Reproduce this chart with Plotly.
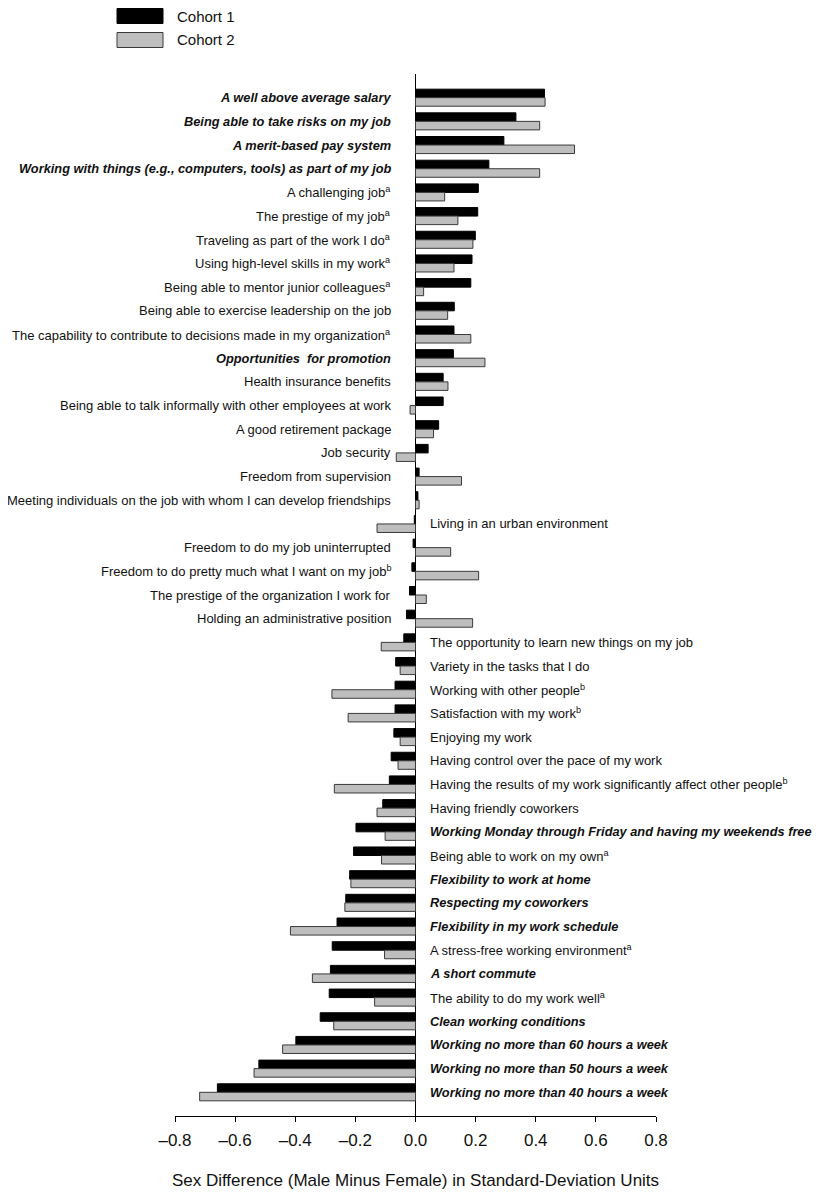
import plotly.graph_objects as go

labels = [
    "A well above average salary",
    "Being able to take risks on my job",
    "A merit-based pay system",
    "Working with things (e.g., computers, tools) as part of my job",
    "A challenging job",
    "The prestige of my job",
    "Traveling as part of the work I do",
    "Using high-level skills in my work",
    "Being able to mentor junior colleagues",
    "Being able to exercise leadership on the job",
    "The capability to contribute to decisions made in my organization",
    "Opportunities  for promotion",
    "Health insurance benefits",
    "Being able to talk informally with other employees at work",
    "A good retirement package",
    "Job security",
    "Freedom from supervision",
    "Meeting individuals on the job with whom I can develop friendships",
    "Living in an urban environment",
    "Freedom to do my job uninterrupted",
    "Freedom to do pretty much what I want on my job",
    "The prestige of the organization I work for",
    "Holding an administrative position",
    "The opportunity to learn new things on my job",
    "Variety in the tasks that I do",
    "Working with other people",
    "Satisfaction with my work",
    "Enjoying my work",
    "Having control over the pace of my work",
    "Having the results of my work significantly affect other people",
    "Having friendly coworkers",
    "Working Monday through Friday and having my weekends free",
    "Being able to work on my own",
    "Flexibility to work at home",
    "Respecting my coworkers",
    "Flexibility in my work schedule",
    "A stress-free working environment",
    "A short commute",
    "The ability to do my work well",
    "Clean working conditions",
    "Working no more than 60 hours a week",
    "Working no more than 50 hours a week",
    "Working no more than 40 hours a week",
]

notes = ["", "", "", "", "a", "a", "a", "a", "a", "", "a", "", "", "", "", "", "", "",
         "", "", "b", "", "", "", "", "b", "b", "", "", "b", "", "", "a", "", "", "",
         "a", "", "a", "", "", "", ""]

emphasis = [1, 1, 1, 1, 0, 0, 0, 0, 0, 0, 0, 1, 0, 0, 0, 0, 0, 0,
            0, 0, 0, 0, 0, 0, 0, 0, 0, 0, 0, 0, 0, 1, 0, 1, 1, 1,
            0, 1, 0, 1, 1, 1, 1]

label_side = ["L"] * 18 + ["R"] + ["L"] * 4 + ["R"] * 20

cohort1 = [0.429, 0.334, 0.294, 0.244, 0.209, 0.207, 0.199, 0.188, 0.184, 0.129,
           0.128, 0.126, 0.092, 0.092, 0.077, 0.042, 0.012, 0.008, -0.004, -0.008,
           -0.012, -0.020, -0.030, -0.039, -0.066, -0.068, -0.068, -0.072, -0.081, -0.087,
           -0.109, -0.198, -0.206, -0.219, -0.232, -0.261, -0.277, -0.283, -0.287, -0.317,
           -0.398, -0.521, -0.659]

cohort2 = [0.431, 0.413, 0.529, 0.413, 0.097, 0.141, 0.191, 0.128, 0.027, 0.107,
           0.184, 0.231, 0.108, -0.018, 0.060, -0.064, 0.153, 0.012, -0.128, 0.117,
           0.210, 0.036, 0.190, -0.114, -0.051, -0.278, -0.224, -0.051, -0.058, -0.270,
           -0.128, -0.101, -0.113, -0.215, -0.235, -0.416, -0.103, -0.343, -0.136, -0.272,
           -0.442, -0.537, -0.718]

series_names = ["Cohort 1", "Cohort 2"]
tick_vals = [-0.8, -0.6, -0.4, -0.2, 0.0, 0.2, 0.4, 0.6, 0.8]
tick_text = ["\u20130.8", "\u20130.6", "\u20130.4", "\u20130.2", "0.0", "0.2", "0.4", "0.6", "0.8"]
x_title = "Sex Difference (Male Minus Female) in Standard-Deviation Units"

FONT = "Liberation Sans, Arial, sans-serif"
OFF = 8  # page body margin
W, H = 821 - OFF, 1199 - OFF
ML, MR, MT, MB = 175 - OFF, 821 - 656 - OFF, 74 - OFF, 1199 - 1116 - OFF + OFF
ML, MR, MT, MB = 175 - OFF, (W + OFF) - 656, 74 - OFF, (H + OFF) - 1116
PW, PH = W - ML - MR, H - MT - MB


def px_x(px):
    return (px - OFF - ML) / PW


def px_y(py):
    return (H - MB - (py - OFF)) / PH


idx = list(range(len(labels)))

fig = go.Figure()
fig.add_trace(go.Bar(
    y=idx, x=cohort1, orientation="h", name=series_names[0],
    marker=dict(color="#000000", line=dict(color="#000000", width=1)),
    showlegend=False,
))
fig.add_trace(go.Bar(
    y=idx, x=cohort2, orientation="h", name=series_names[1],
    marker=dict(color="#bebebe", line=dict(color="#3a3a3a", width=1)),
    showlegend=False,
))

annotations = []
for i, lab in enumerate(labels):
    t = lab
    size = 13
    if emphasis[i]:
        t = "<b><i>" + t + "</i></b>"
        size = 12.8
    if notes[i]:
        t = t + "<sup>" + notes[i] + "</sup>"
    if label_side[i] == "L":
        annotations.append(dict(x=0, y=i, xref="x", yref="y", text=t, showarrow=False,
                                xanchor="right", yanchor="middle", xshift=-23,
                                font=dict(family=FONT, size=size, color="#111111")))
    else:
        annotations.append(dict(x=0, y=i, xref="x", yref="y", text=t, showarrow=False,
                                xanchor="left", yanchor="middle", xshift=12,
                                font=dict(family=FONT, size=size, color="#111111")))

# custom legend
shapes = []
legend_rows = [(8.5, 23.5, "#000000", "#000000"), (32.5, 47.5, "#bebebe", "#3a3a3a")]
for (y0, y1, fill, line), name in zip(legend_rows, series_names):
    shapes.append(dict(type="rect", xref="paper", yref="paper",
                       x0=px_x(117), x1=px_x(163), y0=px_y(y1), y1=px_y(y0),
                       fillcolor=fill, line=dict(color=line, width=1)))
    annotations.append(dict(x=px_x(175), y=px_y((y0 + y1) / 2), xref="paper", yref="paper",
                            text=name, showarrow=False, xanchor="left", yanchor="middle",
                            font=dict(family=FONT, size=15, color="#111111")))

fig.update_layout(
    width=W, height=H,
    margin=dict(l=ML, r=MR, t=MT, b=MB, pad=0),
    paper_bgcolor="white", plot_bgcolor="white",
    barmode="group", bargap=0.28, bargroupgap=0.0,
    annotations=annotations, shapes=shapes,
    font=dict(family=FONT, color="#111111"),
    xaxis=dict(
        range=[-0.8, 0.8], tickvals=tick_vals, ticktext=tick_text,
        showgrid=False, zeroline=True, zerolinecolor="#000000", zerolinewidth=1,
        showline=True, linecolor="#000000", linewidth=1,
        ticks="outside", ticklen=5, tickcolor="#000000", ticklabelstandoff=4,
        tickfont=dict(family=FONT, size=17, color="#111111"),
        title=dict(text=x_title, font=dict(family=FONT, size=17, color="#111111"), standoff=24),
    ),
    yaxis=dict(
        range=[len(labels), -1], showticklabels=False, showgrid=False,
        zeroline=False, showline=False, ticks="",
    ),
)

fig.write_html("out.html")
